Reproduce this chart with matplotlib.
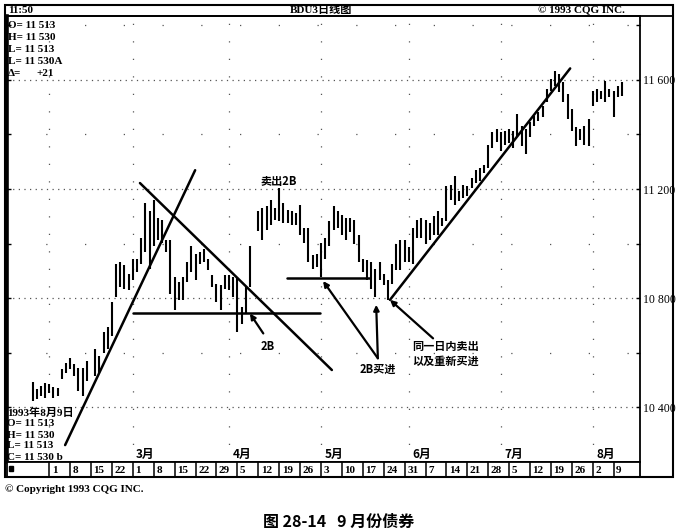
"""BDU3 daily bar chart (Sep 1993 T-bond future), CQG screen reprint."""

import matplotlib

matplotlib.use("Agg")
import matplotlib.pyplot as plt
from matplotlib.patches import Rectangle

FIG_W_PX = 678
FIG_H_PX = 532
SERIF = ["Liberation Serif", "Noto Sans CJK SC"]
HEI = ["Noto Sans CJK SC", "DejaVu Sans"]

# trading sessions numbered from Monday 25 Jan 1993 = 0
# (Presidents' Day and Good Friday have no bar)
HOLIDAYS = [15, 54]
SESSIONS = [d for d in range(1, 143) if d not in HOLIDAYS]

# daily high / low in points (116.00 is printed as "11 600")
HIGHS = [
    104.94, 104.68, 104.79, 104.90, 104.86, 104.75, 104.72, 105.41, 105.62, 105.80,
    105.59, 105.44, 105.44, 105.70, 106.13, 105.88, 106.78, 106.96, 107.87, 109.25,
    109.32, 109.21, 108.88, 109.43, 109.43, 110.22, 111.49, 111.20, 111.60, 110.95,
    110.88, 110.12, 110.15, 108.78, 108.60, 108.78, 109.32, 109.93, 109.61, 109.68,
    109.79, 109.43, 108.85, 108.52, 108.49, 108.85, 108.85, 108.78, 108.78, 107.69,
    108.41, 109.93, 111.20, 111.31, 111.38, 111.60, 111.31, 112.04, 111.49, 111.24,
    111.20, 111.13, 111.42, 110.59, 110.59, 109.57, 109.61, 110.04, 110.22, 110.84,
    111.38, 111.20, 111.06, 110.95, 110.95, 110.88, 110.30, 109.43, 109.39, 109.32,
    109.07, 109.32, 108.88, 108.67, 109.25, 109.97, 110.15, 110.12, 109.86, 110.59,
    110.88, 110.95, 110.88, 110.77, 111.02, 111.20, 110.95, 112.11, 112.15, 112.47,
    111.93, 112.15, 112.11, 112.40, 112.69, 112.76, 112.87, 113.60, 114.10, 114.21,
    114.10, 114.14, 114.21, 114.14, 114.75, 114.32, 114.21, 114.46, 114.68, 114.83,
    115.04, 115.66, 116.02, 116.31, 116.20, 115.91, 115.48, 114.94, 114.28, 114.21,
    114.32, 114.57, 115.59, 115.66, 115.59, 115.95, 115.66, 115.59, 115.77, 115.94,
]
LOWS = [
    104.25, 104.32, 104.43, 104.36, 104.54, 104.36, 104.43, 105.04, 105.26, 105.41,
    105.15, 104.61, 104.43, 104.97, 105.15, 105.26, 105.99, 106.13, 106.60, 108.05,
    108.41, 108.34, 108.30, 108.67, 108.96, 109.25, 109.68, 109.07, 109.93, 110.12,
    110.04, 109.68, 108.16, 107.58, 107.94, 107.94, 108.60, 108.96, 108.67, 109.25,
    109.32, 109.03, 108.41, 107.87, 107.58, 108.34, 108.30, 108.05, 106.78, 107.04,
    107.44, 108.41, 110.48, 110.15, 110.51, 110.70, 110.88, 110.84, 110.77, 110.77,
    110.70, 110.70, 110.30, 110.04, 109.32, 109.07, 109.14, 108.78, 109.43, 109.93,
    110.51, 110.59, 110.30, 110.15, 110.41, 109.97, 109.32, 108.96, 108.67, 108.34,
    108.05, 108.67, 108.49, 107.94, 108.52, 109.03, 109.03, 109.32, 109.32, 109.25,
    110.22, 110.22, 109.97, 110.15, 110.30, 110.33, 110.66, 110.84, 111.60, 111.42,
    111.57, 111.67, 111.75, 112.04, 112.22, 112.29, 112.58, 112.76, 113.49, 113.74,
    113.41, 113.60, 113.67, 113.49, 113.92, 113.56, 113.30, 113.92, 114.32, 114.50,
    114.65, 115.19, 115.59, 115.77, 115.55, 115.19, 114.57, 114.14, 113.56, 113.78,
    113.60, 113.56, 115.04, 115.19, 115.30, 115.19, 115.37, 114.65, 115.37, 115.41,
]

PRICE_TICKS = [104, 108, 112, 116]
PRICE_LABELS = ["10 400", "10 800", "11 200", "11 600"]
MINOR_LEVELS = [106, 110, 114, 118]

WEEK_STARTS = list(range(5, 141, 5))
WEEK_LABELS = [
    "1", "8", "15", "22",
    "1", "8", "15", "22", "29",
    "5", "12", "19", "26",
    "3", "10", "17", "24", "31",
    "7", "14", "21", "28",
    "5", "12", "19", "26",
    "2", "9",
]
MONTH_STARTS = [5, 25, 48, 70, 91, 113, 135]
MONTH_LABELS = ["2月", "3月", "4月", "5月", "6月", "7月", "8月"]

QUOTE_NOW = ["O= 11 513", "H= 11 530", "L= 11 513", "L= 11 530A"]
QUOTE_DAY = ["1993年8月9日", "O= 11 513", "H= 11 530", "L= 11 513", "C= 11 530 b"]


def _rect(x0, y0, x1, y1):
    """Pixel box (top-left origin) to figure fraction rect."""
    return [x0 / FIG_W_PX, 1 - y1 / FIG_H_PX, (x1 - x0) / FIG_W_PX, (y1 - y0) / FIG_H_PX]


fig = plt.figure(figsize=(FIG_W_PX / 100, FIG_H_PX / 100), dpi=100, facecolor="white")
ax = fig.add_axes(_rect(7, 16, 640, 462))
wk = fig.add_axes(_rect(7, 462, 640, 477))
ov = fig.add_axes([0, 0, 1, 1], zorder=5)
ov.set_xlim(0, FIG_W_PX)
ov.set_ylim(FIG_H_PX, 0)
ov.axis("off")

XLIM = (-5.1, 146.3)
YLIM = (102.18, 118.34)

# --- price bars
ax.vlines(SESSIONS, LOWS, HIGHS, colors="black", linewidth=1.5, zorder=3)
ax.set_xlim(*XLIM)
ax.set_ylim(*YLIM)

# dotted screen grid
for level in PRICE_TICKS:
    ax.axhline(level, color="#555555", linewidth=0.9, linestyle=(0, (1, 3.5)), zorder=1)
for level in MINOR_LEVELS:
    ax.axhline(level, color="#555555", linewidth=0.9, linestyle=(0, (1, 30)), zorder=1)
for day in MONTH_STARTS:
    ax.axvline(day, color="#555555", linewidth=0.9, linestyle=(0, (1, 13)), zorder=1)

ax.set_xticks([])
ax.set_yticks(PRICE_TICKS)
ax.set_yticklabels(PRICE_LABELS, fontfamily="Liberation Serif", fontsize=8.5)
ax.set_yticks(range(102, 119, 2), minor=True)
ax.tick_params(axis="y", which="both", direction="in", length=3, width=1,
               left=True, right=True, labelleft=False, labelright=True, pad=2)
ax.spines["left"].set_linewidth(2.6)
for side in ("right", "top", "bottom"):
    ax.spines[side].set_linewidth(1.3)

# month names above the week strip
for day, name in zip(MONTH_STARTS[1:], MONTH_LABELS[1:]):
    ax.text(day + 0.8, 0.018, name, transform=ax.get_xaxis_transform(), ha="left",
            va="center", fontsize=8.5, fontweight="bold", family=HEI)

# --- hand-drawn trend lines and notes
line_kw = dict(color="black", linewidth=1.8, solid_capstyle="round", zorder=4)
ax.plot([8.8, 39.9], [102.62, 112.69], **line_kw)
ax.plot([26.7, 72.6], [112.22, 105.37], **line_kw)
ax.plot([25.0, 69.8], [107.47, 107.47], **line_kw)
ax.plot([61.9, 81.7], [108.74, 108.74], **line_kw)
ax.plot([86.5, 129.6], [107.94, 116.42], **line_kw)

arrow_kw = dict(arrowstyle="-|>", color="black", linewidth=1.6, mutation_scale=8,
                shrinkA=0, shrinkB=0)
ax.annotate("", xy=(53.0, 107.44), xytext=(56.2, 106.71), arrowprops=arrow_kw, zorder=4)
ax.annotate("", xy=(70.5, 108.63), xytext=(83.6, 105.80), arrowprops=arrow_kw, zorder=4)
ax.annotate("", xy=(83.2, 107.76), xytext=(83.6, 105.80), arrowprops=arrow_kw, zorder=4)
ax.annotate("", xy=(86.5, 107.94), xytext=(96.8, 106.53), arrowprops=arrow_kw, zorder=4)

note_kw = dict(fontsize=8, fontweight="bold", family=HEI, va="center", zorder=6)
ax.text(59.8, 112.29, "卖出2B", ha="center", **note_kw)
ax.text(57.3, 106.24, "2B", ha="center", **note_kw)
ax.text(83.6, 105.41, "2B买进", ha="center", **note_kw)
ax.text(91.8, 106.24, "同一日内卖出", ha="left", **note_kw)
ax.text(91.8, 105.70, "以及重新买进", ha="left", **note_kw)

# --- week strip
wk.set_xlim(*XLIM)
wk.set_ylim(0, 1)
wk.set_xticks([])
wk.set_yticks([])
wk.vlines(WEEK_STARTS, 0, 1, colors="black", linewidth=1.1)
for day, label in zip(WEEK_STARTS, WEEK_LABELS):
    wk.text(day + 0.6, 0.45, label, ha="left", va="center", fontsize=8,
            fontweight="bold", family="Liberation Serif")
for spine in wk.spines.values():
    spine.set_linewidth(1.3)

# --- screen frame, header and quote boxes
ov.add_patch(Rectangle((5, 5), 668, 472, fill=False, linewidth=1.5, edgecolor="black"))
ov.plot([5, 673], [16, 16], color="black", linewidth=1.3)
ov.add_patch(Rectangle((9, 466), 4, 5, color="black"))

text_kw = dict(fontsize=8, fontweight="bold", family=SERIF, va="center")
ov.text(8, 10.5, "11:50", ha="left", **text_kw)
ov.text(321, 10.5, "BDU3日线图", ha="center", **text_kw)
ov.text(581, 10.5, "© 1993 CQG INC.", ha="center", **text_kw)

for i, row in enumerate(QUOTE_NOW):
    ov.text(8, 25 + 12 * i, row, ha="left", **text_kw)
ov.text(8, 73, "Δ=", ha="left", **text_kw)
ov.text(36, 73, "+21", ha="left", **text_kw)

for i, row in enumerate(QUOTE_DAY):
    ov.text(7, 413 + 11 * i, row, ha="left", **text_kw)

ov.text(5, 489, "© Copyright 1993 CQG INC.", ha="left", **text_kw)
ov.text(339, 522, "图 28-14   9 月份债券", ha="center", va="center", fontsize=11.5,
        fontweight="bold", family=HEI)

fig.savefig("out.png", dpi=100, facecolor="white")
